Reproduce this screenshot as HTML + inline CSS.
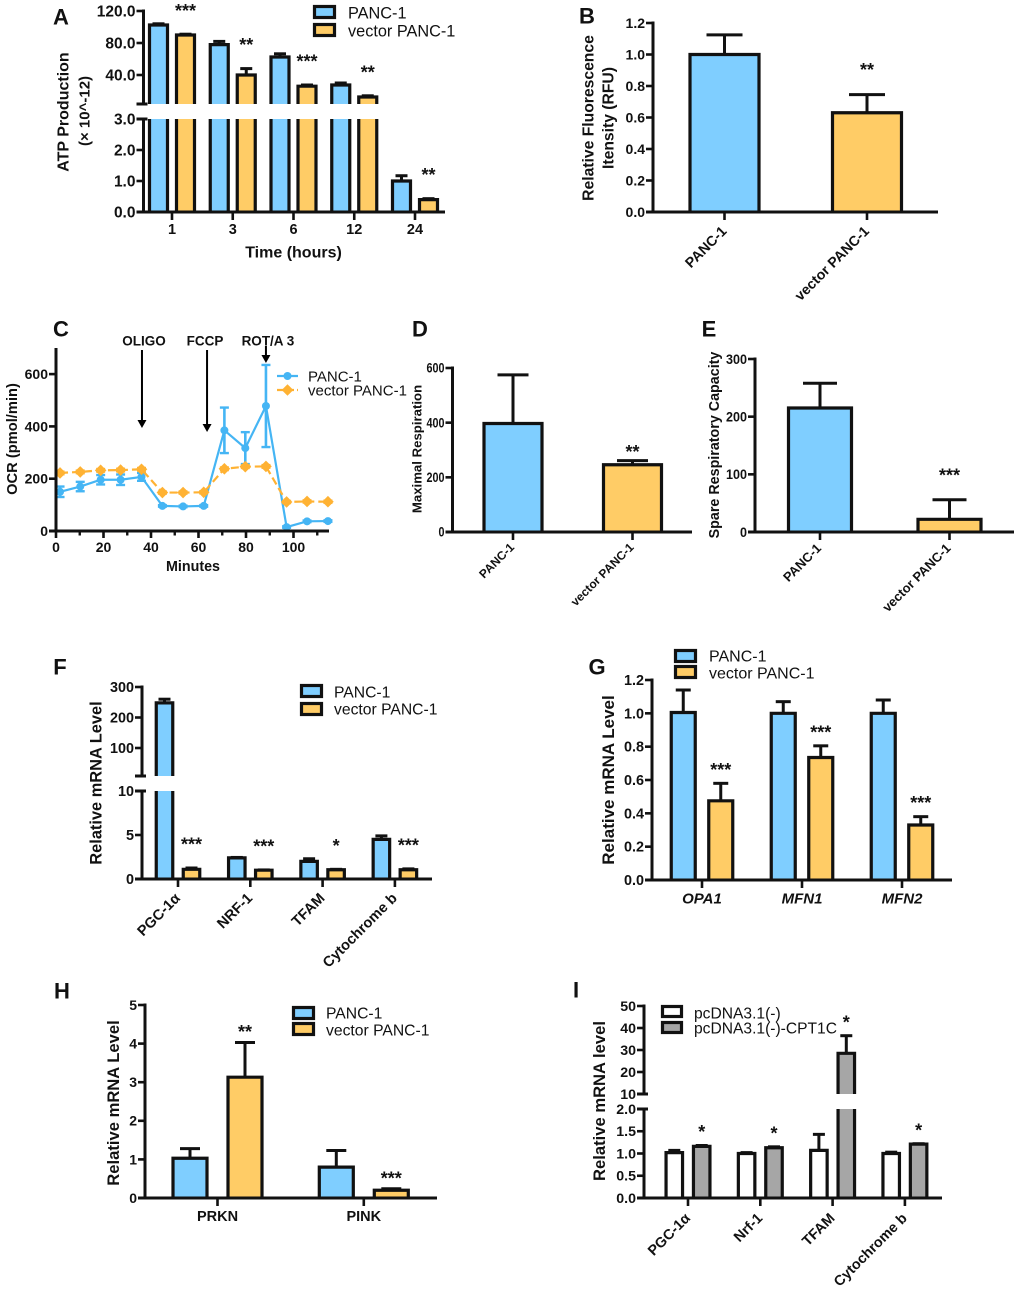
<!DOCTYPE html>
<html lang="en">
<head>
<meta charset="utf-8">
<title>PANC-1 metabolic and mRNA panels</title>
<style>
  html, body { margin: 0; padding: 0; background: #fff; }
  #figure { display: block; width: 1020px; height: 1290px; background: #fff; filter: blur(0.3px); }
  #figure text { font-family: "Liberation Sans", "DejaVu Sans", sans-serif; fill: #111; }
</style>
</head>
<body>
<svg id="figure" xmlns="http://www.w3.org/2000/svg" width="1020" height="1290" viewBox="0 0 1020 1290">
  <g id="panel-a"></g>
  <g id="panel-b"></g>
  <g id="panel-c"></g>
  <g id="panel-d"></g>
  <g id="panel-e"></g>
  <g id="panel-f"></g>
  <g id="panel-g"></g>
  <g id="panel-h"></g>
  <g id="panel-i"></g>
</svg>
<script>
// ---------- Panel A data ----------
const aCategories = ['1', '3', '6', '12', '24'];
const aTicks = ['0.0', '1.0', '2.0', '3.0', '40.0', '80.0', '120.0'];
const aControl = [102.5, 78, 62.5, 27.5, 1.0];
const aControlErr = [1.5, 4, 4, 2.5, 0.17];
const aVector = [90, 40, 26, 12.5, 0.4];
const aVectorErr = [1, 8, 1.5, 1.5, 0.03];
const aStars = ['***', '**', '***', '**', '**'];
// ---------- Panel B data ----------
const bCategories = ['PANC-1', 'vector PANC-1'];
const bTicks = ['0.0', '0.2', '0.4', '0.6', '0.8', '1.0', '1.2'];
const bValues = [1.0, 0.63];
const bErrors = [0.125, 0.115];
const bStars = ['', '**'];
// ---------- Panel C data ----------
const cMinutes = [1.7, 10.2, 18.8, 27.2, 36, 44.8, 53.5, 62.2, 70.9, 79.7, 88.4, 97.1, 105.7, 114.5];
const cControl = [150, 170, 196, 196, 207, 96, 94, 96, 385, 317, 478, 15, 37, 38];
const cControlErr = [20, 18, 18, 20, 15, 3, 3, 3, 87, 61, 157, 3, 3, 3];
const cVector = [222, 226, 232, 233, 236, 147, 147, 148, 238, 246, 247, 111, 113, 112];
const cVectorErr = [5, 5, 5, 5, 5, 4, 4, 4, 5, 5, 5, 4, 4, 4];
const cXMajor = ['0', '20', '40', '60', '80', '100'];
const cXMinor = [10, 30, 50, 70, 90, 110];
const cYTicks = ['0', '200', '400', '600'];
const cInjectionNames = ['OLIGO', 'FCCP', 'ROT/A 3'];
const cInjectionMinutes = [36.2, 63.6, 88.4];
// ---------- Panel D data ----------
const dCategories = ['PANC-1', 'vector PANC-1'];
const dTicks = ['0', '200', '400', '600'];
const dValues = [397, 246];
const dErrors = [178, 15];
const dStars = ['', '**'];
// ---------- Panel E data ----------
const eCategories = ['PANC-1', 'vector PANC-1'];
const eTicks = ['0', '100', '200', '300'];
const eValues = [215, 22];
const eErrors = [43, 34];
const eStars = ['', '***'];
// ---------- Panel F data ----------
const fCategories = ['PGC-1α', 'NRF-1', 'TFAM', 'Cytochrome b'];
const fTicks = ['0', '5', '10', '100', '200', '300'];
const fControl = [248, 2.4, 2.0, 4.5];
const fControlErr = [12, 0.05, 0.3, 0.4];
const fVector = [1.1, 1.0, 1.05, 1.05];
const fVectorErr = [0.15, 0.03, 0.05, 0.1];
const fStars = ['***', '***', '*', '***'];
// ---------- Panel G data ----------
const gCategories = ['OPA1', 'MFN1', 'MFN2'];
const gTicks = ['0.0', '0.2', '0.4', '0.6', '0.8', '1.0', '1.2'];
const gControl = [1.005, 1.0, 1.0];
const gControlErr = [0.135, 0.07, 0.08];
const gVector = [0.475, 0.735, 0.33];
const gVectorErr = [0.105, 0.07, 0.05];
const gStars = ['***', '***', '***'];
// ---------- Panel H data ----------
const hCategories = ['PRKN', 'PINK'];
const hTicks = ['0', '1', '2', '3', '4', '5'];
const hControl = [1.03, 0.8];
const hControlErr = [0.25, 0.43];
const hVector = [3.13, 0.2];
const hVectorErr = [0.9, 0.04];
const hStars = ['**', '***'];
// ---------- Panel I data ----------
const iCategories = ['PGC-1α', 'Nrf-1', 'TFAM', 'Cytochrome b'];
const iTicks = ['0.0', '0.5', '1.0', '1.5', '2.0', '10', '20', '30', '40', '50'];
const iControl = [1.02, 1.0, 1.07, 1.0];
const iControlErr = [0.05, 0.02, 0.36, 0.03];
const iTreated = [1.16, 1.13, 28.5, 1.21];
const iTreatedErr = [0.02, 0.02, 8, 0.01];
const iStars = ['*', '*', '*', '*'];

// ---------- Shared styling ----------
const BLUE = '#7FCEFF';
const ORANGE = '#FFCC66';
const GRAY = '#A6A6A6';
const INK = '#111';
const LINE_BLUE = '#45B5F4';
const LINE_ORANGE = '#FFB233';
const SVG_NS = 'http://www.w3.org/2000/svg';
const BAR_STROKE = 3.2;
const STAR_SIZE = 18;

function mk(parent, tag, name, attrs) {
  const el = document.createElementNS(SVG_NS, tag);
  
  
  for (const k in attrs) el.setAttribute(k, attrs[k]);
  parent.appendChild(el);
  return el;
}
function line(parent, name, x1, y1, x2, y2, width, color) {
  return mk(parent, 'line', name, { x1: x1, y1: y1, x2: x2, y2: y2, stroke: color || INK, 'stroke-width': width || 3 });
}
// y is the vertical centre of the text's cap height
function label(parent, name, str, x, y, o) {
  o = o || {};
  const size = o.size || 14;
  const t = mk(parent, 'text', name, {
    x: x, y: y + size * 0.35,
    'font-size': size,
    'font-weight': o.weight || 'bold',
    'text-anchor': o.anchor || 'middle'
  });
  if (o.italic) t.setAttribute('font-style', 'italic');
  t.textContent = str;
  if (o.squeeze) {
    t.setAttribute('textLength', (t.getComputedTextLength() * o.squeeze).toFixed(1));
    t.setAttribute('lengthAdjust', 'spacingAndGlyphs');
  }
  return t;
}
function rotatedLabel(parent, name, str, x, y, angle, size, anchor) {
  const t = mk(parent, 'text', name, {
    x: 0, y: 0,
    transform: 'translate(' + x + ' ' + y + ') rotate(' + angle + ')',
    'font-size': size, 'font-weight': 'bold', 'text-anchor': anchor
  });
  t.textContent = str;
  return t;
}
function verticalTitle(parent, name, str, x, cy, size) {
  return rotatedLabel(parent, name, str, x + size * 0.35, cy, -90, size, 'middle');
}
function panelLetter(parent, str, x, y) {
  return label(parent, 'panel-letter-' + str.toLowerCase(), str, x, y, { size: 22 });
}
function makeYScale(segs) {
  return function (v) {
    let s = segs[segs.length - 1];
    for (let i = 0; i < segs.length; i++) { if (v <= segs[i][1]) { s = segs[i]; break; } }
    return s[2] + (v - s[0]) * (s[3] - s[2]) / (s[1] - s[0]);
  };
}
function drawLegend(parent, cfg, items) {
  items.forEach(function (it, i) {
    const top = cfg.tops[i];
    mk(parent, 'rect', 'legend-swatch-' + it.key, {
      x: cfg.x + 1.5, y: top + 1.5, width: cfg.w - 3, height: cfg.h - 3,
      fill: it.fill, stroke: INK, 'stroke-width': 3.2
    });
    label(parent, 'legend-label-' + it.key, it.name, cfg.textX, cfg.textY[i], { size: cfg.size, weight: 'normal', anchor: 'start' });
  });
}
function drawBar(parent, name, cx, bw, v, e, fill, segs, y, capHalf) {
  line(parent, name + '-error-stem', cx, y(v), cx, y(v + e), 3);
  line(parent, name + '-error-cap', cx - capHalf, y(v + e), cx + capHalf, y(v + e), 3);
  const left = cx - bw / 2;
  segs.forEach(function (s, idx) {
    if (v <= s[0]) return;
    const capped = v <= s[1];
    const topY = capped ? y(v) : s[3];
    const botY = s[2];
    mk(parent, 'rect', name + '-fill-' + idx, { x: left, y: topY, width: bw, height: botY - topY, fill: fill });
    const d = 'M' + left + ' ' + botY + 'V' + topY + (capped ? 'H' + (left + bw) : 'M' + (left + bw) + ' ' + topY) + 'V' + botY;
    mk(parent, 'path', name + '-outline-' + idx, { d: d, fill: 'none', stroke: INK, 'stroke-width': BAR_STROKE });
  });
}
function drawBarPanel(c) {
  const g = document.getElementById(c.id);
  const y = makeYScale(c.segs);
  const base = c.segs[0][2];
  const topY = c.segs[c.segs.length - 1][3];
  const groupX = function (i) { return c.groupStart + i * c.groupStep; };

  c.series.forEach(function (s, j) {
    c.categories.forEach(function (cat, i) {
      const fill = Array.isArray(s.fill) ? s.fill[i] : s.fill;
      drawBar(g, 'bar-' + s.key + '-' + i, groupX(i) + c.offsets[j], c.barW, s.values[i], s.errors[i], fill, c.segs, y, c.cap);
    });
  });

  // stars sit a fixed gap above the error bar of the marked series
  const starSeries = c.series[c.series.length - 1];
  c.stars.forEach(function (st, i) {
    if (!st) return;
    const cx = groupX(i) + c.offsets[c.series.length - 1];
    const cy = y(starSeries.values[i] + starSeries.errors[i]) - c.starGap;
    const t = mk(g, 'text', 'significance-marker-' + i, { x: cx, y: cy + STAR_SIZE * 0.42, 'font-size': STAR_SIZE, 'font-weight': 'bold', 'text-anchor': 'middle' });
    t.textContent = st;
  });

  // axes
  if (c.segs.length === 1) {
    line(g, 'y-axis-line', c.axisX, base + 1.5, c.axisX, topY - 1.5, 3);
  } else {
    c.segs.forEach(function (s, idx) {
      line(g, 'y-axis-line-segment-' + idx, c.axisX, s[2] + (idx === 0 ? 1.5 : 0), c.axisX, s[3] - (idx === 0 ? 0 : 1.5), 3);
    });
    line(g, 'y-axis-break-lower', c.axisX - 7, c.segs[0][3], c.axisX + 4, c.segs[0][3], 3);
    line(g, 'y-axis-break-upper', c.axisX - 7, c.segs[1][2], c.axisX + 4, c.segs[1][2], 3);
  }
  line(g, 'x-axis-line', c.axisX - 7, base, c.xEnd, base, 3);
  c.ticks.forEach(function (t) {
    const ty = y(parseFloat(t));
    line(g, 'y-tick-' + t, c.axisX - 7, ty, c.axisX, ty, 2.6);
    label(g, 'y-tick-label-' + t, t, c.axisX - 8, ty, { size: c.tickSize, anchor: 'end', squeeze: c.tickSqueeze });
  });
  c.categories.forEach(function (cat, i) {
    const tx = groupX(i);
    line(g, 'x-tick-' + cat, tx, base, tx, base + 8, 2.6);
    if (c.xRot) {
      rotatedLabel(g, 'x-tick-label-' + cat, cat, tx + c.xRot.dx, base + c.xRot.dy, -45, c.xRot.size, 'end');
    } else {
      label(g, 'x-tick-label-' + cat, cat, tx, base + c.xPlain.dy, { size: c.xPlain.size, italic: c.xPlain.italic });
    }
  });
  c.titles.forEach(function (t, i) {
    verticalTitle(g, 'y-axis-title-' + i, t.text, t.x, t.cy, t.size);
  });
  if (c.xTitle) label(g, 'x-axis-title', c.xTitle.text, c.xTitle.x, c.xTitle.y, { size: c.xTitle.size });
  if (c.legend) {
    drawLegend(g, c.legend, c.series.map(function (s) { return { key: s.key, name: s.name, fill: s.fill }; }));
  }
  panelLetter(g, c.letter[0], c.letter[1], c.letter[2]);
}

// ---------- Panel configurations ----------
const NAME_A = 'PANC-1', NAME_B = 'vector PANC-1';

drawBarPanel({
  id: 'panel-a', letter: ['A', 61, 17], categories: aCategories, ticks: aTicks, stars: aStars, starGap: 25,
  axisX: 143.5, xEnd: 445, groupStart: 172, groupStep: 60.75, offsets: [-13.5, 13.5], barW: 18, cap: 6,
  segs: [[0, 3, 212, 119], [3.75, 120, 104, 11]], tickSize: 15.5,
  series: [
    { key: 'panc1', name: NAME_A, values: aControl, errors: aControlErr, fill: BLUE },
    { key: 'vector', name: NAME_B, values: aVector, errors: aVectorErr, fill: ORANGE }
  ],
  xPlain: { dy: 17, size: 14.5 },
  xTitle: { text: 'Time (hours)', x: 293.5, y: 252, size: 16 },
  titles: [
    { text: 'ATP Production', x: 63, cy: 112, size: 16 },
    { text: '(× 10^-12)', x: 84, cy: 111, size: 15 }
  ],
  legend: { x: 313, w: 23, h: 14, tops: [5, 23], textX: 348, textY: [13, 31], size: 16.3 }
});

drawBarPanel({
  id: 'panel-b', letter: ['B', 587, 16], categories: bCategories, ticks: bTicks, stars: bStars, starGap: 26,
  axisX: 653, xEnd: 938, groupStart: 724.5, groupStep: 142.5, offsets: [0], barW: 69, cap: 18,
  segs: [[0, 1.2, 212, 23]], tickSize: 14,
  series: [{ key: 'fluorescence', name: 'RFU', values: bValues, errors: bErrors, fill: [BLUE, ORANGE] }],
  xRot: { dx: 3, dy: 20, size: 14.2 },
  titles: [
    { text: 'Relative Fluorescence', x: 588, cy: 118, size: 15.7 },
    { text: 'Itensity (RFU)', x: 608, cy: 118, size: 15.7 }
  ]
});

drawBarPanel({
  id: 'panel-d', letter: ['D', 420, 329], categories: dCategories, ticks: dTicks, stars: dStars, starGap: 10,
  axisX: 452.5, xEnd: 692, groupStart: 513, groupStep: 119.5, offsets: [0], barW: 58, cap: 15.5,
  segs: [[0, 600, 532, 368]], tickSize: 13.5, tickSqueeze: 0.8,
  series: [{ key: 'maximal-respiration', name: 'Maximal Respiration', values: dValues, errors: dErrors, fill: [BLUE, ORANGE] }],
  xRot: { dx: 2, dy: 16, size: 12 },
  titles: [{ text: 'Maximal Respiration', x: 417, cy: 449, size: 13.2 }]
});

drawBarPanel({
  id: 'panel-e', letter: ['E', 709, 329], categories: eCategories, ticks: eTicks, stars: eStars, starGap: 26,
  axisX: 755, xEnd: 1014, groupStart: 820, groupStep: 129.5, offsets: [0], barW: 63, cap: 17,
  segs: [[0, 300, 532, 359]], tickSize: 14, tickSqueeze: 0.9,
  series: [{ key: 'spare-capacity', name: 'Spare Respiratory Capacity', values: eValues, errors: eErrors, fill: [BLUE, ORANGE] }],
  xRot: { dx: 2, dy: 17, size: 13 },
  titles: [{ text: 'Spare Respiratory Capacity', x: 714, cy: 445, size: 14.3 }]
});

drawBarPanel({
  id: 'panel-f', letter: ['F', 60, 667], categories: fCategories, ticks: fTicks, stars: fStars, starGap: 25,
  axisX: 142, xEnd: 432, groupStart: 178, groupStep: 72.3, offsets: [-13.5, 13.5], barW: 16.5, cap: 6,
  segs: [[0, 10, 879, 791], [8.2, 300, 776, 687]], tickSize: 14.4,
  series: [
    { key: 'panc1', name: NAME_A, values: fControl, errors: fControlErr, fill: BLUE },
    { key: 'vector', name: NAME_B, values: fVector, errors: fVectorErr, fill: ORANGE }
  ],
  xRot: { dx: 3, dy: 20, size: 14.6 },
  titles: [{ text: 'Relative mRNA Level', x: 96, cy: 783, size: 16.4 }],
  legend: { x: 300, w: 23, h: 14, tops: [684, 702], textX: 334, textY: [692, 709], size: 15.7 }
});

drawBarPanel({
  id: 'panel-g', letter: ['G', 597, 667], categories: gCategories, ticks: gTicks, stars: gStars, starGap: 15,
  axisX: 652, xEnd: 952, groupStart: 702, groupStep: 100, offsets: [-18.75, 18.75], barW: 24, cap: 7.5,
  segs: [[0, 1.2, 880, 680]], tickSize: 14.4,
  series: [
    { key: 'panc1', name: NAME_A, values: gControl, errors: gControlErr, fill: BLUE },
    { key: 'vector', name: NAME_B, values: gVector, errors: gVectorErr, fill: ORANGE }
  ],
  xPlain: { dy: 18, size: 15, italic: true },
  titles: [{ text: 'Relative mRNA Level', x: 608, cy: 780, size: 17 }],
  legend: { x: 674, w: 23, h: 14, tops: [649, 665], textX: 709, textY: [656, 673], size: 16 }
});

drawBarPanel({
  id: 'panel-h', letter: ['H', 62, 991], categories: hCategories, ticks: hTicks, stars: hStars, starGap: 12,
  axisX: 145, xEnd: 437, groupStart: 217.5, groupStep: 146.3, offsets: [-27.5, 27.5], barW: 34, cap: 10,
  segs: [[0, 5, 1198, 1005]], tickSize: 14,
  series: [
    { key: 'panc1', name: NAME_A, values: hControl, errors: hControlErr, fill: BLUE },
    { key: 'vector', name: NAME_B, values: hVector, errors: hVectorErr, fill: ORANGE }
  ],
  xPlain: { dy: 18, size: 14.5 },
  titles: [{ text: 'Relative mRNA Level', x: 113, cy: 1103, size: 16.6 }],
  legend: { x: 292, w: 23, h: 14, tops: [1006, 1022], textX: 326, textY: [1013, 1030], size: 15.7 }
});

drawBarPanel({
  id: 'panel-i', letter: ['I', 576, 990], categories: iCategories, ticks: iTicks, stars: iStars, starGap: 15,
  axisX: 644, xEnd: 942, groupStart: 688, groupStep: 72.3, offsets: [-13.7, 13.7], barW: 16.5, cap: 6,
  segs: [[0, 2, 1198, 1109], [10, 50, 1094, 1006]], tickSize: 14.2,
  series: [
    { key: 'pcdna', name: 'pcDNA3.1(-)', values: iControl, errors: iControlErr, fill: '#FFFFFF' },
    { key: 'cpt1c', name: 'pcDNA3.1(-)-CPT1C', values: iTreated, errors: iTreatedErr, fill: GRAY }
  ],
  xRot: { dx: 3, dy: 21, size: 14.4 },
  titles: [{ text: 'Relative mRNA level', x: 599, cy: 1101, size: 16.6 }],
  legend: { x: 661, w: 22, h: 13, tops: [1005, 1021], textX: 694, textY: [1013, 1028], size: 15.6 }
});

// ---------- Panel C: line chart ----------
(function drawLinePanel() {
  const g = document.getElementById('panel-c');
  const axisX = 56, base = 531;
  const x = function (m) { return axisX + m * 2.375; };
  const y = function (v) { return base - v * 52.3 / 200; };
  const color1 = LINE_BLUE, color2 = LINE_ORANGE;

  function series(key, values, errors, color, dashed, marker) {
    const pts = cMinutes.map(function (m, i) { return x(m) + ',' + y(values[i]); }).join(' ');
    const pl = mk(g, 'polyline', 'line-' + key, { points: pts, fill: 'none', stroke: color, 'stroke-width': 2.2 });
    if (dashed) pl.setAttribute('stroke-dasharray', '8 4');
    cMinutes.forEach(function (m, i) {
      const px = x(m), hi = y(values[i] + errors[i]), lo = y(values[i] - errors[i]);
      line(g, 'error-bar-' + key + '-' + i, px, hi, px, lo, 2.6, color);
      line(g, 'error-cap-top-' + key + '-' + i, px - 4.5, hi, px + 4.5, hi, 2.4, color);
      line(g, 'error-cap-bottom-' + key + '-' + i, px - 4.5, lo, px + 4.5, lo, 2.4, color);
      marker(key + '-' + i, px, y(values[i]));
    });
  }
  function circle(key, px, py) {
    mk(g, 'circle', 'point-' + key, { cx: px, cy: py, r: 4, fill: color1 });
  }
  function diamond(key, px, py) {
    const s = 5.8;
    mk(g, 'polygon', 'point-' + key, {
      points: px + ',' + (py - s) + ' ' + (px + s) + ',' + py + ' ' + px + ',' + (py + s) + ' ' + (px - s) + ',' + py,
      fill: color2
    });
  }

  series('panc1', cControl, cControlErr, color1, false, circle);
  series('vector', cVector, cVectorErr, color2, true, diamond);

  line(g, 'y-axis-line', axisX, base + 1.5, axisX, 348, 3);
  line(g, 'x-axis-line', axisX - 7, base, 329, base, 3);
  cYTicks.forEach(function (t) {
    const ty = y(parseFloat(t));
    line(g, 'y-tick-' + t, axisX - 7, ty, axisX, ty, 2.6);
    label(g, 'y-tick-label-' + t, t, axisX - 8, ty, { size: 14, anchor: 'end' });
  });
  cXMajor.forEach(function (t) {
    const tx = x(parseFloat(t));
    line(g, 'x-tick-' + t, tx, base, tx, base + 7, 2.6);
    label(g, 'x-tick-label-' + t, t, tx, 547, { size: 14 });
  });
  cXMinor.forEach(function (t) {
    const tx = x(t);
    line(g, 'x-minor-tick-' + t, tx, base, tx, base + 4.5, 2.4);
  });
  label(g, 'x-axis-title', 'Minutes', 193, 566, { size: 14.3 });
  verticalTitle(g, 'y-axis-title', 'OCR (pmol/min)', 12, 439, 14.7);

  // drug injection arrows
  const labelCentreOffset = [2, -2, 2];
  const arrowTop = [350, 350, 346];
  const arrowTip = [428, 432, 363];
  cInjectionNames.forEach(function (n, i) {
    const ax = x(cInjectionMinutes[i]);
    label(g, 'injection-label-' + n, n, ax + labelCentreOffset[i], 341, { size: 13.5 });
    line(g, 'injection-arrow-shaft-' + n, ax, arrowTop[i], ax, arrowTip[i] - 4, 2, '#000');
    mk(g, 'polygon', 'injection-arrow-head-' + n, {
      points: (ax - 4.5) + ',' + (arrowTip[i] - 8) + ' ' + (ax + 4.5) + ',' + (arrowTip[i] - 8) + ' ' + ax + ',' + arrowTip[i],
      fill: '#000'
    });
  });

  // legend
  line(g, 'legend-line-panc1', 277, 376, 298, 376, 2.2, color1);
  mk(g, 'circle', 'legend-marker-panc1', { cx: 287.5, cy: 376, r: 4, fill: color1 });
  label(g, 'legend-label-panc1', 'PANC-1', 308, 376, { size: 15, weight: 'normal', anchor: 'start' });
  const dash = line(g, 'legend-line-vector', 277, 390, 298, 390, 2.2, color2);
  dash.setAttribute('stroke-dasharray', '7 3');
  diamond('legend-vector', 287.5, 390);
  label(g, 'legend-label-vector', 'vector PANC-1', 308, 390, { size: 15, weight: 'normal', anchor: 'start' });

  panelLetter(g, 'C', 61, 329);
})();
</script>
</body>
</html>
